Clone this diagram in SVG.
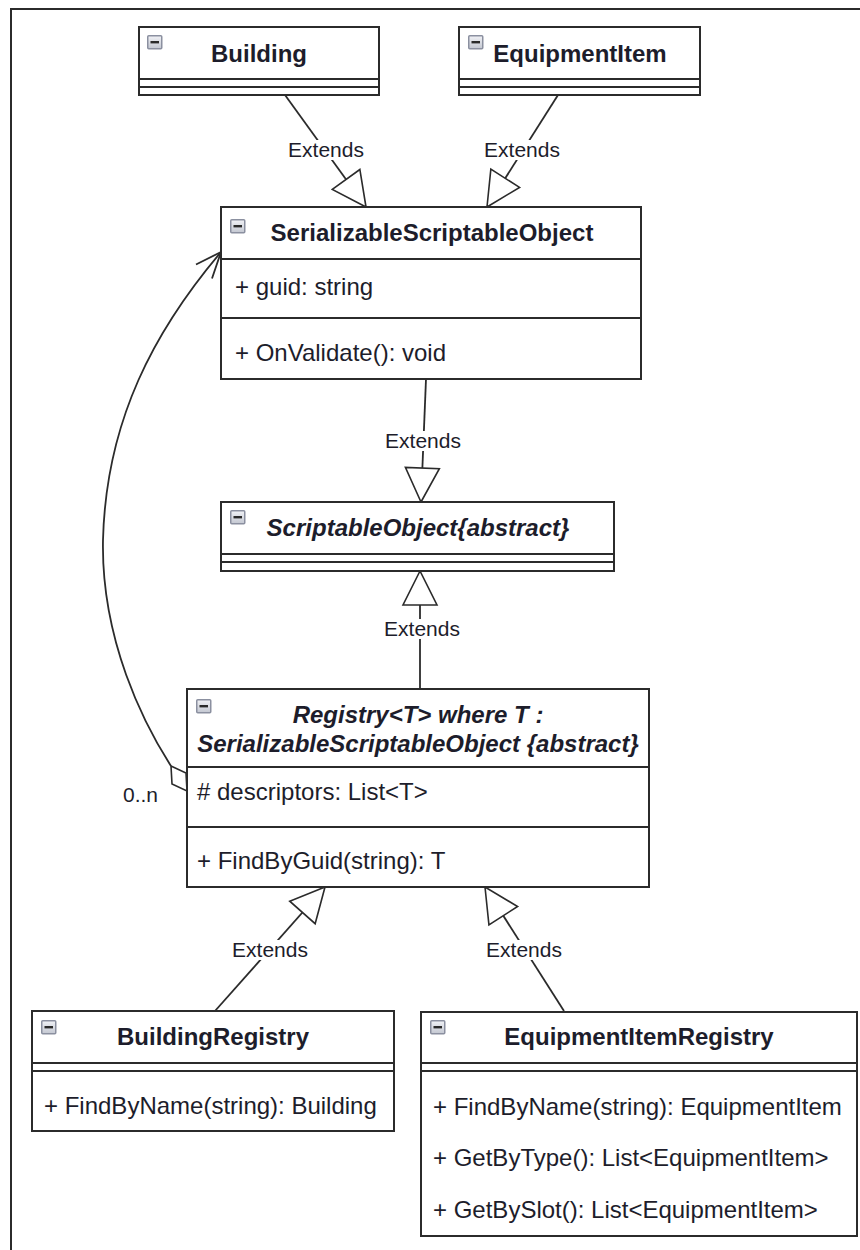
<svg xmlns="http://www.w3.org/2000/svg" width="860" height="1250" viewBox="0 0 860 1250">
  <defs>
    <style>
      .box { fill:#ffffff; stroke:#2b2b2b; stroke-width:2; }
      .sep { stroke:#2b2b2b; stroke-width:2; }
      .t { font-family:"Liberation Sans", Arial, sans-serif; font-size:24px; fill:#1d1d2b; }
      .title { font-weight:bold; text-anchor:middle; }
      .abs { font-style:italic; }
      .lbl { font-family:"Liberation Sans", Arial, sans-serif; font-size:21px; fill:#1d1d2b; text-anchor:middle; }
      .lblbg { fill:#ffffff; }
      .conn { stroke:#2b2b2b; stroke-width:1.8; fill:none; }
      .head { fill:#ffffff; stroke:#2b2b2b; stroke-width:1.6; stroke-linejoin:miter; }
    </style>
    <linearGradient id="iconFill" x1="0" y1="0" x2="0" y2="1">
      <stop offset="0" stop-color="#f1f2f6"/>
      <stop offset="1" stop-color="#c3c7d1"/>
    </linearGradient>
    <!-- collapse toggle shown in every class header -->
    <g id="collapse">
      <rect x="0.75" y="0.75" width="14" height="13" rx="1" fill="url(#iconFill)" stroke="#8b90a0" stroke-width="1.5"/>
      <rect x="3.5" y="6" width="8.5" height="2.4" fill="#2a2a2a"/>
    </g>
    <!-- hollow generalization triangle -->
    <marker id="extends" markerUnits="userSpaceOnUse" markerWidth="40" markerHeight="40" viewBox="-37 -20 40 40" refX="0" refY="0" orient="auto">
      <path class="head" d="M0,0 L-34,-17 L-34,17 Z"/>
    </marker>
  </defs>

  <rect x="0" y="0" width="860" height="1250" fill="#ffffff"/>
  <!-- outer frame -->
  <rect x="11" y="9" width="870" height="1270" fill="none" stroke="#2b2b2b" stroke-width="2"/>

  <!-- connectors -->
  <g id="connectors">
    <line class="conn" x1="285" y1="95" x2="366" y2="207" marker-end="url(#extends)"/>
    <line class="conn" x1="558" y1="95" x2="487" y2="207" marker-end="url(#extends)"/>
    <line class="conn" x1="426" y1="379" x2="421" y2="502" marker-end="url(#extends)"/>
    <line class="conn" x1="420" y1="689" x2="420" y2="571" marker-end="url(#extends)"/>
    <line class="conn" x1="215" y1="1011" x2="325" y2="887" marker-end="url(#extends)"/>
    <line class="conn" x1="564" y1="1011" x2="485" y2="887" marker-end="url(#extends)"/>

    <!-- aggregation: Registry holds 0..n SerializableScriptableObject -->
    <path class="conn" d="M171,766 C144,724 101,640 103,540 C106,420 155,330 221,252"/>
    <polyline class="conn" points="196,264.5 221,252 212,278.5"/>
    <polygon points="171,766 186,773 187,791 172,784" fill="#ffffff" stroke="#2b2b2b" stroke-width="1.6"/>
    <text class="lbl" x="140.5" y="802">0..n</text>

    <rect class="lblbg" x="287" y="140" width="78" height="20"/>
    <text class="lbl" x="326" y="157">Extends</text>
    <rect class="lblbg" x="483" y="140" width="78" height="20"/>
    <text class="lbl" x="522" y="157">Extends</text>
    <rect class="lblbg" x="384" y="431" width="78" height="20"/>
    <text class="lbl" x="423" y="448">Extends</text>
    <rect class="lblbg" x="383" y="619" width="78" height="20"/>
    <text class="lbl" x="422" y="636">Extends</text>
    <rect class="lblbg" x="231" y="940" width="78" height="20"/>
    <text class="lbl" x="270" y="957">Extends</text>
    <rect class="lblbg" x="485" y="940" width="78" height="20"/>
    <text class="lbl" x="524" y="957">Extends</text>
  </g>

  <!-- Building -->
  <g id="building">
    <rect class="box" x="139" y="27" width="240" height="68"/>
    <line class="sep" x1="139" y1="79" x2="379" y2="79"/>
    <line class="sep" x1="139" y1="87" x2="379" y2="87"/>
    <use href="#collapse" x="147" y="35"/>
    <text class="t title" x="259" y="62">Building</text>
  </g>

  <!-- EquipmentItem -->
  <g id="equipment-item">
    <rect class="box" x="459" y="27" width="241" height="68"/>
    <line class="sep" x1="459" y1="79" x2="700" y2="79"/>
    <line class="sep" x1="459" y1="87" x2="700" y2="87"/>
    <use href="#collapse" x="468" y="35"/>
    <text class="t title" x="580" y="62">EquipmentItem</text>
  </g>

  <!-- SerializableScriptableObject -->
  <g id="serializable-scriptable-object">
    <rect class="box" x="221" y="207" width="420" height="172"/>
    <line class="sep" x1="221" y1="259" x2="641" y2="259"/>
    <line class="sep" x1="221" y1="318" x2="641" y2="318"/>
    <use href="#collapse" x="230" y="219"/>
    <text class="t title" x="432" y="241">SerializableScriptableObject</text>
    <text class="t" x="235" y="295">+ guid: string</text>
    <text class="t" x="235" y="361">+ OnValidate(): void</text>
  </g>

  <!-- ScriptableObject -->
  <g id="scriptable-object">
    <rect class="box" x="221" y="502" width="393" height="69"/>
    <line class="sep" x1="221" y1="554" x2="614" y2="554"/>
    <line class="sep" x1="221" y1="562" x2="614" y2="562"/>
    <use href="#collapse" x="230" y="510"/>
    <text class="t title abs" x="418" y="536">ScriptableObject{abstract}</text>
  </g>

  <!-- Registry<T> -->
  <g id="registry">
    <rect class="box" x="187" y="689" width="462" height="198"/>
    <line class="sep" x1="187" y1="767" x2="649" y2="767"/>
    <line class="sep" x1="187" y1="827" x2="649" y2="827"/>
    <use href="#collapse" x="196" y="699"/>
    <text class="t title abs" x="418" y="723">Registry&lt;T&gt; where T :</text>
    <text class="t title abs" x="418" y="752">SerializableScriptableObject {abstract}</text>
    <text class="t" x="197" y="800"># descriptors: List&lt;T&gt;</text>
    <text class="t" x="197" y="869">+ FindByGuid(string): T</text>
  </g>

  <!-- BuildingRegistry -->
  <g id="building-registry">
    <rect class="box" x="32" y="1011" width="362" height="120"/>
    <line class="sep" x1="32" y1="1063" x2="394" y2="1063"/>
    <line class="sep" x1="32" y1="1071" x2="394" y2="1071"/>
    <use href="#collapse" x="41" y="1020"/>
    <text class="t title" x="213" y="1045">BuildingRegistry</text>
    <text class="t" x="44" y="1114">+ FindByName(string): Building</text>
  </g>

  <!-- EquipmentItemRegistry -->
  <g id="equipment-item-registry">
    <rect class="box" x="421" y="1012" width="436" height="224"/>
    <line class="sep" x1="421" y1="1063" x2="857" y2="1063"/>
    <line class="sep" x1="421" y1="1071" x2="857" y2="1071"/>
    <use href="#collapse" x="430" y="1020"/>
    <text class="t title" x="639" y="1045">EquipmentItemRegistry</text>
    <text class="t" x="433" y="1115">+ FindByName(string): EquipmentItem</text>
    <text class="t" x="433" y="1166">+ GetByType(): List&lt;EquipmentItem&gt;</text>
    <text class="t" x="433" y="1218">+ GetBySlot(): List&lt;EquipmentItem&gt;</text>
  </g>
</svg>
